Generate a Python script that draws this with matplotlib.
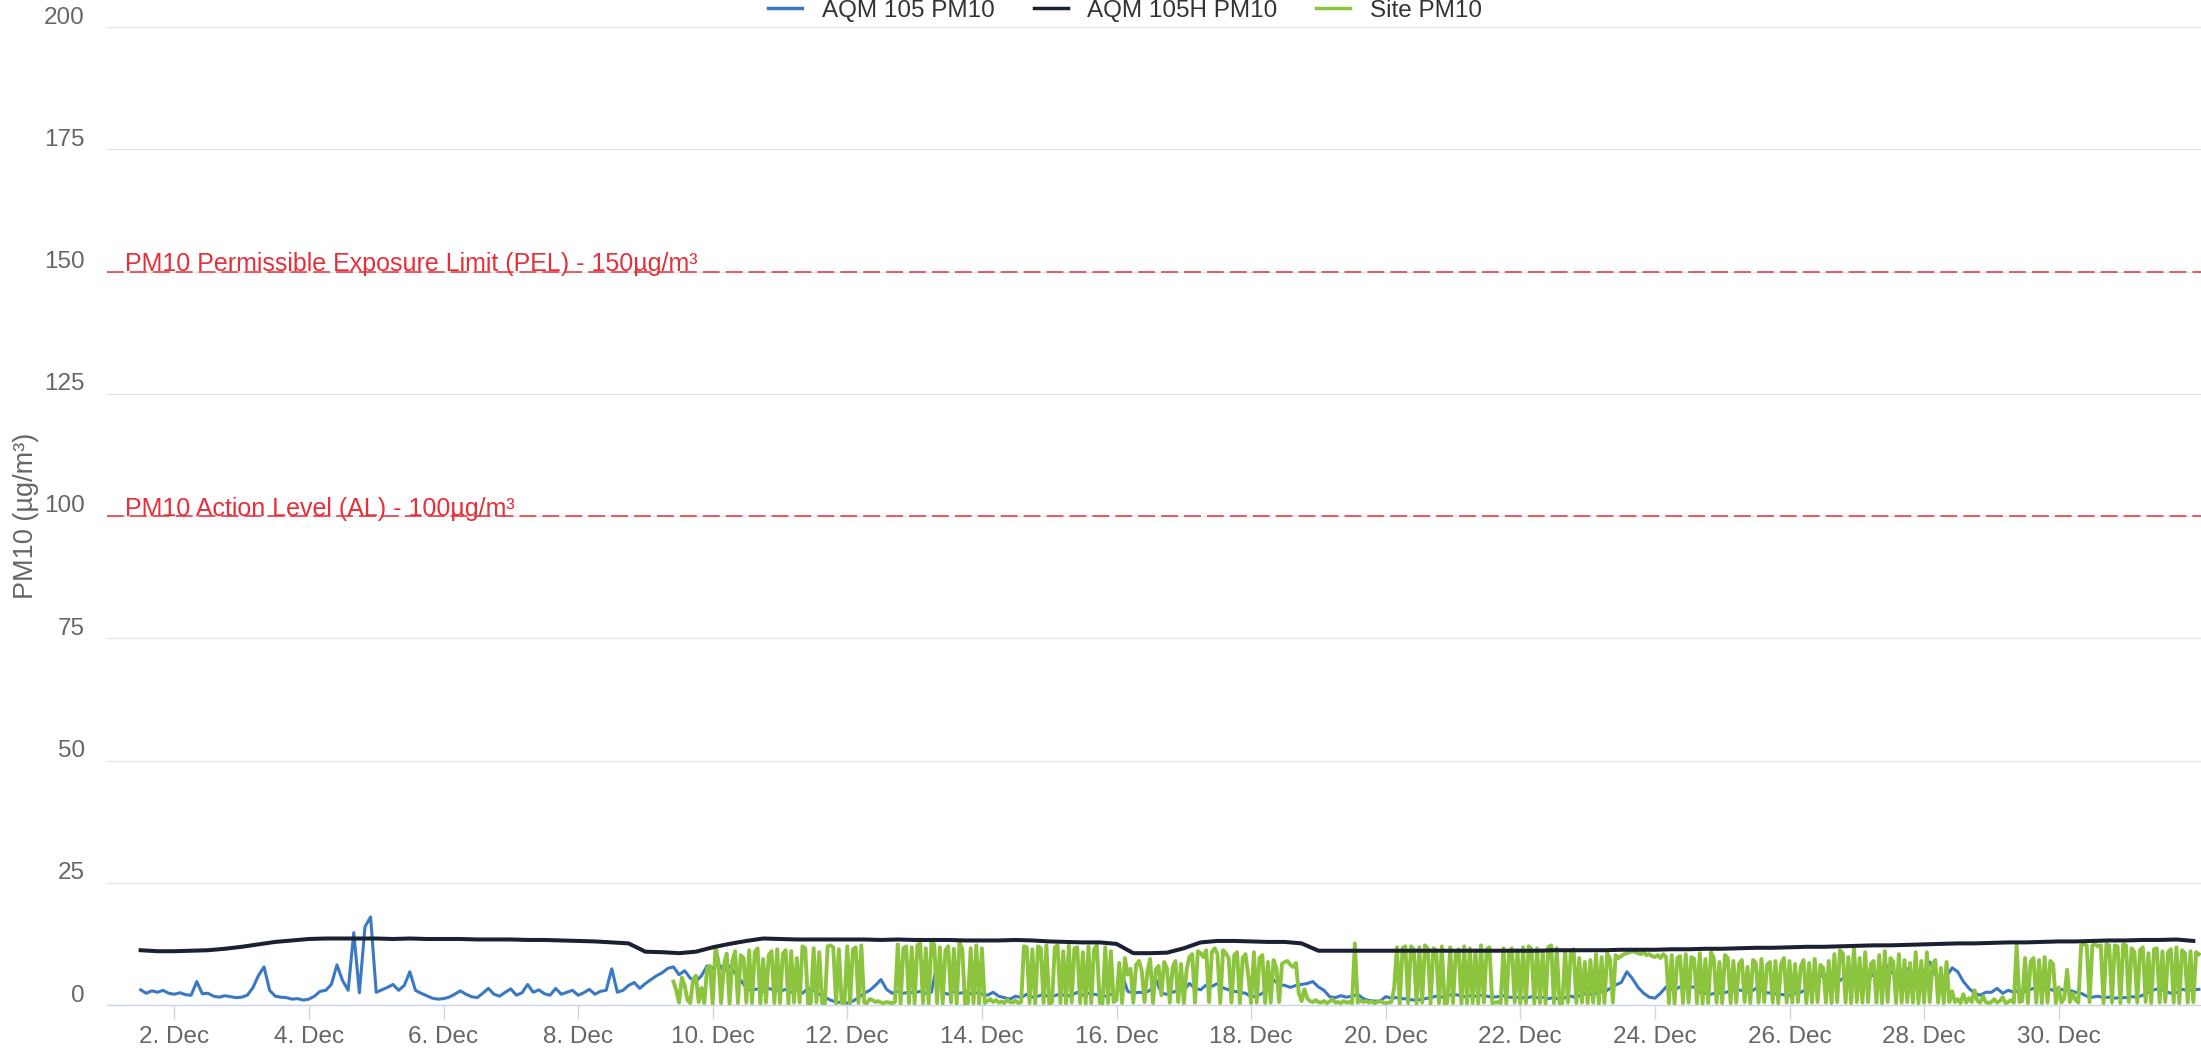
import numpy as np
import matplotlib
matplotlib.use('Agg')
import matplotlib.pyplot as plt
import matplotlib.dates as mdates
from matplotlib.lines import Line2D
from matplotlib.ticker import FuncFormatter
from matplotlib.transforms import ScaledTranslation

plt.rcParams['font.family'] = ['Liberation Sans', 'DejaVu Sans']

# Series names
names = ['AQM 105 PM10', 'AQM 105H PM10', 'Site PM10']

# AQM 105 PM10, 2-hourly readings from 1 Dec 12:00
blue_start = '2023-12-01T12:00'
blue = [
    3.1, 2.4, 2.9, 2.6, 3.0, 2.4,
    2.2, 2.5, 2.1, 2.0, 4.8, 2.3, 2.4, 1.8, 1.6, 1.9, 1.7, 1.5,
    1.6, 2.0, 3.5, 6.0, 7.8, 3.0, 1.8, 1.6, 1.5, 1.2, 1.3, 1.0,
    1.2, 1.8, 2.8, 3.0, 4.2, 8.2, 5.0, 3.0, 14.8, 2.5, 16.0, 18.0,
    2.6, 3.1, 3.6, 4.2, 3.0, 4.0, 6.8, 3.0, 2.4, 1.9, 1.4, 1.2,
    1.3, 1.6, 2.2, 2.9, 2.2, 1.7, 1.5, 2.4, 3.4, 2.2, 1.8, 2.6,
    3.3, 2.0, 2.5, 4.2, 2.6, 3.1, 2.3, 2.0, 3.4, 2.2, 2.6, 3.0,
    2.0, 2.5, 3.2, 2.2, 2.8, 3.0, 7.4, 2.6, 3.0, 4.0, 4.6, 3.4,
    4.4, 5.2, 6.0, 6.6, 7.5, 7.8, 6.2, 7.0, 5.5, 4.8, 6.0, 8.0,
    7.5, 8.5, 7.0, 8.0, 6.5, 5.0, 3.5, 3.0, 3.3, 2.8, 3.4, 3.0,
    2.8, 3.2, 2.6, 3.0, 2.4, 3.4, 3.0, 2.2, 1.6, 1.0, 0.6, 0.5,
    0.4, 0.8, 1.5, 2.4, 3.0, 4.0, 5.2, 3.2, 2.4, 2.8, 2.4, 2.6,
    2.5, 2.8, 2.4, 2.6, 8.5, 2.6, 2.2, 2.8, 2.4, 2.6, 2.3, 2.5,
    2.2, 2.0, 2.6, 1.8, 1.5, 1.2, 1.8, 1.5, 2.2, 1.6, 1.8, 2.2,
    1.6, 1.9, 2.3, 1.8, 2.0, 2.6, 2.0, 2.4, 2.2, 2.0, 1.8, 2.2,
    2.0, 6.2, 2.8, 2.4, 2.6, 2.5, 3.0, 5.2, 2.4, 2.2, 2.6, 3.0,
    3.0, 4.4, 3.4, 3.1, 4.1, 3.8, 4.4, 3.5, 3.1, 2.8, 2.6, 2.4,
    1.7, 1.8, 2.4, 3.5, 5.1, 4.2, 4.0, 3.6, 4.0, 4.2, 4.4, 4.8,
    3.7, 3.0, 1.7, 1.5, 1.9, 1.6, 1.8, 2.2, 1.3, 0.9, 0.8, 0.8,
    1.7, 1.4, 1.5, 1.3, 1.2, 1.0, 1.1, 1.3, 1.5, 1.8, 1.6, 1.9,
    2.2, 2.0, 1.7, 1.9, 1.8, 2.0, 1.8, 1.6, 1.7, 1.9, 1.6, 1.5,
    1.6, 1.4, 1.7, 1.5, 1.6, 1.3, 1.5, 1.2, 1.5, 1.8, 1.5, 2.2,
    2.4, 2.0, 2.8, 2.6, 3.4, 4.1, 4.6, 6.8, 5.4, 3.6, 2.4, 1.6,
    1.4, 2.4, 3.7, 3.2, 3.4, 4.0, 3.6, 3.7, 2.6, 2.4, 2.2, 2.5,
    2.4, 2.7, 2.9, 3.1, 2.8, 2.6, 3.4, 3.0, 2.5, 2.4, 2.2, 2.1,
    2.0, 2.4, 2.6, 3.2, 4.0, 5.2, 6.4, 5.6, 6.2, 5.0, 5.8, 5.4,
    6.0, 5.6, 5.2, 6.4, 5.6, 8.6, 7.0, 5.8, 6.6, 7.4, 5.8, 7.0,
    6.8, 8.8, 6.2, 5.4, 5.8, 7.6, 6.8, 4.8, 3.4, 2.4, 2.0, 2.6,
    2.6, 3.4, 2.4, 3.0, 2.6, 3.0, 2.8, 3.2, 3.6, 3.2, 3.4, 3.0,
    3.2, 3.1, 3.0, 2.6, 2.4, 1.8, 1.6, 1.8, 1.5, 1.6, 1.4, 1.5,
    1.5, 1.7, 1.6, 2.0, 2.6, 3.1, 3.4, 2.8, 2.4, 2.5, 3.2, 3.0,
    3.1, 3.2,
]

# AQM 105H PM10, 6-hourly readings from 1 Dec 12:00
navy_start = '2023-12-01T12:00'
navy = [
    11.2, 11.0,
    11.0, 11.1, 11.2, 11.5,
    11.9, 12.4, 12.9, 13.2,
    13.5, 13.6, 13.6, 13.6,
    13.6, 13.5, 13.6, 13.5,
    13.5, 13.5, 13.4, 13.4,
    13.4, 13.3, 13.3, 13.2,
    13.1, 13.0, 12.8, 12.6,
    10.9, 10.8, 10.6, 10.9,
    11.8, 12.5, 13.1, 13.6,
    13.5, 13.4, 13.4, 13.4,
    13.4, 13.4, 13.3, 13.4,
    13.3, 13.3, 13.3, 13.2,
    13.2, 13.2, 13.3, 13.2,
    13.0, 12.9, 12.8, 12.8,
    12.5, 10.6, 10.6, 10.7,
    11.6, 12.8, 13.1, 13.1,
    13.0, 12.9, 12.9, 12.6,
    11.1, 11.1, 11.1, 11.1,
    11.1, 11.1, 11.1, 11.1,
    11.1, 11.1, 11.1, 11.1,
    11.1, 11.1, 11.2, 11.2,
    11.2, 11.2, 11.3, 11.3,
    11.3, 11.4, 11.4, 11.5,
    11.5, 11.6, 11.7, 11.7,
    11.8, 11.9, 11.9, 12.0,
    12.1, 12.2, 12.2, 12.3,
    12.4, 12.5, 12.6, 12.6,
    12.7, 12.8, 12.8, 12.9,
    13.0, 13.0, 13.1, 13.2,
    13.2, 13.3, 13.3, 13.4,
    13.1,
]

# Site PM10, hourly readings from 9 Dec 10:00
green_start = '2023-12-09T10:00'
green = [
    4.8, 3.0, 0.5, 5.6, 4.0, 1.0, 0.4, 5.2, 6.0, 0.6, 3.5, 0.4, 7.5, 8.0,
    0.3, 11.8, 9.0, 0.4, 8.2, 10.5, 0.3, 9.0, 11.0, 0.4, 10.2, 9.6, 0.5, 11.2, 0.4, 10.8, 11.6, 0.3, 9.4, 0.5, 10.2, 11.0, 0.4, 11.4,
    0.4, 10.4, 11.2, 0.3, 11.0, 0.5, 9.6, 0.5, 12.0, 11.6, 0.3, 0.4, 11.6, 0.5, 10.8, 0.4, 0.3, 12.0, 12.2, 11.8, 0.3, 11.4, 0.4, 0.5,
    12.0, 0.3, 11.4, 11.8, 0.4, 12.2, 0.5, 0.4, 1.2, 1.0, 0.6, 0.8, 0.5, 0.4, 0.6, 0.5, 0.4, 0.6, 12.4, 0.3, 11.6, 12.0, 0.4, 11.8,
    0.3, 12.2, 12.6, 0.4, 11.6, 0.3, 12.8, 12.4, 0.4, 11.8, 0.3, 11.2, 12.0, 0.5, 11.5, 0.3, 12.8, 11.4, 0.3, 0.4, 11.6, 0.4, 12.2, 0.3,
    11.6, 0.4, 0.8, 1.2, 0.6, 1.0, 0.5, 0.7, 0.4, 1.1, 0.6, 0.5, 0.9, 0.4, 0.6, 12.0, 11.8, 0.4, 11.4, 0.3, 12.0, 11.6, 0.4, 12.2,
    0.3, 0.5, 11.8, 12.2, 0.4, 11.0, 0.3, 12.2, 0.5, 11.6, 11.8, 0.4, 10.8, 0.3, 12.0, 0.4, 11.4, 12.2, 0.5, 0.3, 11.8, 0.4, 11.0, 0.6,
    1.0, 8.6, 0.4, 9.6, 6.2, 7.4, 0.5, 8.2, 9.0, 7.0, 0.6, 6.8, 9.4, 0.4, 7.2, 8.0, 2.0, 8.8, 7.4, 0.5, 7.6, 9.0, 0.6, 8.4,
    0.4, 7.2, 9.8, 10.4, 0.5, 11.0, 10.6, 9.8, 11.2, 0.6, 10.8, 11.6, 10.4, 0.4, 11.2, 10.6, 9.6, 0.5, 10.2, 10.8, 0.4, 9.6, 10.4, 6.0,
    0.4, 10.8, 0.5, 9.6, 10.2, 0.4, 8.8, 0.5, 9.2, 7.6, 0.6, 8.4, 8.8, 9.0, 8.2, 7.8, 8.6, 2.4, 0.8, 3.2, 1.4, 0.8, 0.6, 1.0,
    0.6, 0.5, 0.8, 0.4, 0.7, 1.2, 0.5, 0.6, 0.4, 0.8, 0.5, 0.6, 0.4, 12.6, 0.5, 1.0, 0.6, 0.8, 0.5, 0.7, 0.4, 0.6, 0.8, 0.5,
    0.4, 0.5, 0.6, 3.4, 11.8, 0.3, 11.6, 12.0, 0.4, 12.0, 11.4, 0.3, 11.8, 0.5, 12.2, 11.6, 0.3, 11.6, 11.2, 0.4, 12.0, 0.3, 0.5, 11.8,
    0.4, 10.6, 11.4, 0.3, 12.0, 0.3, 11.6, 0.4, 11.2, 0.3, 12.2, 0.5, 11.4, 11.8, 0.4, 0.5, 0.6, 0.4, 11.6, 0.3, 10.8, 11.6, 0.5, 11.2,
    0.3, 11.8, 0.4, 12.0, 11.4, 0.3, 11.6, 0.4, 11.0, 0.3, 11.8, 12.2, 0.4, 11.6, 0.3, 0.4, 11.2, 0.5, 10.8, 11.4, 0.4, 9.6, 0.5, 8.8,
    0.4, 9.2, 0.5, 10.4, 0.3, 9.8, 0.4, 10.6, 9.4, 0.5, 10.2, 9.6, 10.0, 10.4, 10.6, 10.8, 11.0, 10.8, 10.6, 10.4, 10.8, 10.2, 10.4, 10.0,
    9.8, 10.2, 9.6, 10.4, 9.8, 0.4, 10.2, 0.3, 9.6, 10.0, 0.4, 10.4, 0.5, 9.8, 9.4, 0.4, 10.6, 0.3, 9.4, 0.4, 10.8, 9.6, 0.5, 8.8,
    0.4, 10.2, 9.6, 0.4, 9.0, 0.5, 8.4, 9.2, 0.6, 7.8, 0.4, 9.2, 8.6, 0.5, 9.4, 0.6, 8.2, 8.8, 0.5, 9.0, 0.4, 8.4, 9.6, 0.5,
    9.0, 0.5, 8.4, 0.6, 7.8, 9.2, 0.4, 8.6, 0.5, 9.4, 0.6, 8.2, 7.6, 0.5, 9.0, 0.4, 10.4, 0.6, 11.2, 10.6, 0.5, 9.8, 0.4, 12.0,
    0.6, 9.6, 0.5, 10.8, 0.6, 8.4, 9.0, 0.5, 10.2, 0.4, 11.0, 0.6, 9.6, 8.8, 0.4, 10.4, 0.5, 9.2, 0.6, 8.6, 0.5, 10.8, 0.4, 9.0,
    0.5, 10.8, 0.6, 8.4, 9.2, 0.5, 7.6, 0.4, 8.8, 0.6, 2.8, 0.6, 1.2, 0.4, 2.2, 0.5, 1.4, 0.6, 3.0, 0.8, 0.5, 1.8, 0.6, 0.4,
    0.6, 1.2, 0.5, 0.8, 1.6, 0.4, 0.6, 1.0, 0.5, 12.2, 0.6, 0.8, 9.6, 0.4, 8.8, 9.6, 0.5, 9.2, 0.4, 9.8, 0.5, 9.0, 8.4, 0.4,
    3.6, 0.5, 1.4, 7.2, 0.6, 2.4, 1.0, 0.5, 12.2, 12.4, 12.2, 0.6, 12.2, 12.4, 12.0, 12.2, 0.4, 12.4, 12.2, 0.5, 12.2, 12.0, 0.4, 12.4,
    12.2, 0.6, 11.6, 10.8, 0.5, 11.2, 11.8, 0.6, 10.6, 0.4, 11.4, 11.6, 0.5, 11.0, 0.6, 10.8, 11.4, 0.5, 11.8, 0.4, 11.2, 10.6, 0.5, 11.0,
    0.6, 10.8, 10.4,
]

# Threshold lines
limits = [150, 100]
limit_labels = ['PM10 Permissible Exposure Limit (PEL) - 150µg/m³',
                'PM10 Action Level (AL) - 100µg/m³']

# Axis settings
y_ticks = [0, 25, 50, 75, 100, 125, 150, 175, 200]
x_start = '2023-12-01T00:00'
tick_days = list(range(2, 31, 2))


def times(start, n, hours):
    return np.datetime64(start) + np.arange(n) * np.timedelta64(hours, 'h')


blue_t = times(blue_start, len(blue), 2)
navy_t = times(navy_start, len(navy), 6)
green_t = times(green_start, len(green), 1)

c_blue = '#3a78c4'
c_navy = '#1b2133'
c_green = '#8cc43e'
c_red = '#e4303a'
c_text = '#666666'

fig = plt.figure(figsize=(22.01, 10.56), dpi=100)
W, H = 2201, 1056
ax = fig.add_axes([107 / W, 1 - 1005 / H, (W - 107) / W, (1005 - 27) / H])

ax.plot(blue_t, blue, color=c_blue, lw=2.2, zorder=3)
ax.plot(green_t, green, color=c_green, lw=2.8, zorder=4)
ax.plot(navy_t, navy, color=c_navy, lw=2.9, zorder=5)

# Threshold lines with labels
for val, lab in zip(limits, limit_labels):
    ax.axhline(val, color=c_red, lw=1.1, dashes=(11, 4), zorder=2)
    ax.text(18 / (W - 107), val, lab, transform=ax.get_yaxis_transform(),
            color=c_red, fontsize=18, va='baseline', ha='left', zorder=6)

# Axis limits
x0 = np.datetime64(x_start)
ax.set_xlim(mdates.date2num(x0), mdates.date2num(x0) + (W - 107) / 67.3)
ax.set_ylim(0, 200)

# Grid and spines
ax.set_yticks(y_ticks)
ax.yaxis.grid(True, color='#e6e6e6', lw=1)
ax.xaxis.grid(False)
for s in ['top', 'right', 'left']:
    ax.spines[s].set_visible(False)
ax.spines['bottom'].set_color('#ccd6eb')
ax.spines['bottom'].set_linewidth(1)

ax.xaxis.set_major_locator(mdates.DayLocator(bymonthday=tick_days))
ax.xaxis.set_major_formatter(FuncFormatter(
    lambda v, p: '%d. %s' % (mdates.num2date(v).day, mdates.num2date(v).strftime('%b'))))

ax.tick_params(axis='x', length=10, width=1, color='#ccd6eb', pad=5,
               labelsize=17.5, labelcolor=c_text)
ax.tick_params(axis='y', length=0, pad=16, labelsize=17.5, labelcolor=c_text)

# y labels sit slightly above their grid lines
offset = ScaledTranslation(0, 0.12, fig.dpi_scale_trans)
for lbl in ax.get_yticklabels():
    lbl.set_transform(lbl.get_transform() + offset)

fig.text(26 / W, 1 - 516 / H, 'PM10 (µg/m³)', rotation=90, ha='center',
         va='center', fontsize=19.5, color=c_text)

# Legend at top
handles = [Line2D([], [], color=c, lw=2.5) for c in [c_blue, c_navy, c_green]]
fig.legend(handles, names, loc='center', bbox_to_anchor=(1125 / W, 1 - 11 / H),
           ncol=3, frameon=False, fontsize=17.5, handlelength=1.4,
           columnspacing=1.6, labelcolor='#333333', borderpad=0, borderaxespad=0)

fig.savefig('out.png', dpi=100)
